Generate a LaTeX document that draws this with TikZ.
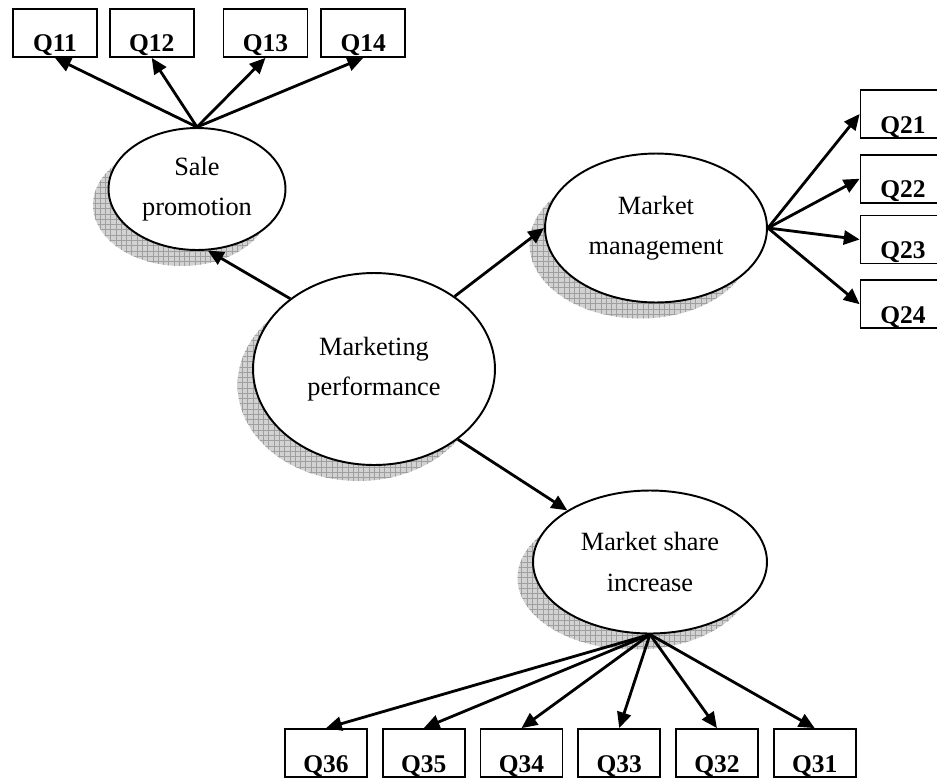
\documentclass[tikz,border=0pt]{standalone}
\usepackage{fontspec}
\setmainfont{Liberation Serif}
\usetikzlibrary{arrows.meta}
\usetikzlibrary{shapes.geometric}
\usetikzlibrary{shadows,patterns}
\usetikzlibrary{positioning}

\begin{document}
\begin{tikzpicture}
		[x=0.02cm,y=-0.02cm,
		 construct/.style={ellipse,draw,line width=1.1pt,fill=white,align=center,inner sep=0pt,
			font=\fontsize{15}{23}\selectfont,
			drop shadow={shadow xshift=-0.31cm,shadow yshift=-0.32cm,opacity=1,fill=gray!35},
			drop shadow={shadow xshift=-0.31cm,shadow yshift=-0.32cm,opacity=1,pattern=grid,pattern color=gray!75}},
		 indicator/.style={rectangle,draw,line width=1pt,minimum width=1.68cm,inner sep=0pt,
			text height=0.86cm,text depth=0.1cm,font=\fontsize{14.5}{16}\selectfont\bfseries},
		 loading/.style={-{Triangle[length=9pt,width=8pt]},line width=1.6pt}]

		\clip (0,0) rectangle (937,778);

		\node[construct,minimum width=4.84cm,minimum height=3.84cm] (perf) at (374,369) {Marketing\\performance};
		\node[construct,minimum width=3.54cm,minimum height=2.44cm] (promo) at (197,189) {Sale\\promotion};
		\node[construct,minimum width=4.44cm,minimum height=2.98cm] (mgmt) at (656,228) {Market\\management};
		\node[construct,minimum width=4.68cm,minimum height=2.86cm] (share) at (650,562) {Market share\\increase};
		\draw[loading] (perf.140) -- (promo.-80);
		\draw[loading] (perf.42) -- (mgmt.west);
		\draw[loading] (perf.-40) -- (share.148);

		% sale promotion items
		\node[indicator] (Q11) at (55,33) {Q11};
		\node[indicator] (Q12) [right=0.22cm of Q11] {Q12};
		\node[indicator] (Q13) [right=0.56cm of Q12] {Q13};
		\node[indicator] (Q14) [right=0.24cm of Q13] {Q14};
		\draw[loading] (promo.north) -- (Q11.south);
		\draw[loading] (promo.north) -- (Q12.south);
		\draw[loading] (promo.north) -- (Q13.south);
		\draw[loading] (promo.north) -- (Q14.south);

		% market management items
		\node[indicator,minimum width=1.7cm] (Q21) at (903,114) {Q21};
		\node[indicator,minimum width=1.7cm] (Q22) [below=0.3cm of Q21] {Q22};
		\node[indicator,minimum width=1.7cm] (Q23) [below=0.22cm of Q22] {Q23};
		\node[indicator,minimum width=1.7cm] (Q24) [below=0.3cm of Q23] {Q24};
		\draw[loading] (mgmt.east) -- (Q21.west);
		\draw[loading] (mgmt.east) -- (Q22.west);
		\draw[loading] (mgmt.east) -- (Q23.west);
		\draw[loading] (mgmt.east) -- (Q24.west);

		% market share items
		\node[indicator,minimum width=1.64cm] (Q36) at (326,753) {Q36};
		\node[indicator,minimum width=1.64cm] (Q35) [right=0.28cm of Q36] {Q35};
		\node[indicator,minimum width=1.64cm] (Q34) [right=0.28cm of Q35] {Q34};
		\node[indicator,minimum width=1.64cm] (Q33) [right=0.28cm of Q34] {Q33};
		\node[indicator,minimum width=1.64cm] (Q32) [right=0.28cm of Q33] {Q32};
		\node[indicator,minimum width=1.64cm] (Q31) [right=0.28cm of Q32] {Q31};
		\draw[loading] (share.south) -- (Q36.north);
		\draw[loading] (share.south) -- (Q35.north);
		\draw[loading] (share.south) -- (Q34.north);
		\draw[loading] (share.south) -- (Q33.north);
		\draw[loading] (share.south) -- (Q32.north);
		\draw[loading] (share.south) -- (Q31.north);
	\end{tikzpicture}
\end{document}
